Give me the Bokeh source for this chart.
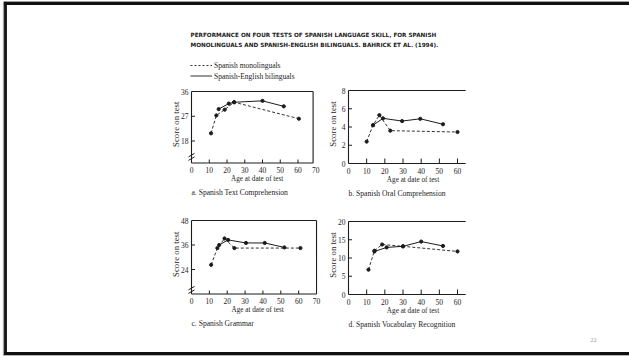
import math
from bokeh.plotting import figure
from bokeh.models import Range1d
from bokeh.core.properties import value
from bokeh.embed import file_html
from bokeh.resources import INLINE

# ---------------- data ----------------
title_lines = [
    "PERFORMANCE ON FOUR TESTS OF SPANISH LANGUAGE SKILL, FOR SPANISH",
    "MONOLINGUALS AND SPANISH-ENGLISH BILINGUALS.   BAHRICK ET AL. (1994).",
]
legend_labels = ["Spanish monolinguals", "Spanish-English bilinguals"]
page_number = "22"
x_title = "Age at date of test"
y_title = "Score on test"

captions = {
    "a": "a. Spanish Text Comprehension",
    "b": "b. Spanish Oral Comprehension",
    "c": "c. Spanish Grammar",
    "d": "d. Spanish Vocabulary Recognition",
}
xticks = {
    "a": [0, 10, 20, 30, 40, 50, 60, 70],
    "b": [0, 10, 20, 30, 40, 50, 60],
    "c": [0, 10, 20, 30, 40, 50, 60, 70],
    "d": [0, 10, 20, 30, 40, 50, 60],
}
yticks = {
    "a": [18, 27, 36],
    "b": [0, 2, 4, 6, 8],
    "c": [24, 36, 48],
    "d": [0, 5, 10, 15, 20],
}
# axis limits (x end, y min, y max)
x_end = {"a": 68.5, "b": 64.5, "c": 70, "d": 64.5}
y_min = {"a": 10, "b": 0, "c": 12, "d": 0}
y_max = {"a": 36, "b": 8, "c": 48, "d": 20}
y_break = {"a": 12.6, "c": 14.5}

# Spanish monolinguals (dashed) / Spanish-English bilinguals (solid)
mono_age_a = [11, 14, 18.7, 24, 60.5]
mono_score_a = [20.8, 27.3, 29.4, 32.1, 26.1]
bi_age_a = [15.3, 21, 24, 40, 52]
bi_score_a = [29.6, 31.6, 32.1, 32.6, 30.6]

mono_age_b = [10, 13.5, 17, 23, 60]
mono_score_b = [2.4, 4.2, 5.3, 3.6, 3.45]
bi_age_b = [13.5, 19, 29.5, 39.5, 52]
bi_score_b = [4.2, 4.95, 4.65, 4.9, 4.3]

mono_age_c = [11, 14.5, 18.5, 24, 61]
mono_score_c = [26.3, 34.5, 39.2, 34.5, 34.5]
bi_age_c = [15.5, 20.5, 30.5, 41, 52]
bi_score_c = [36.0, 38.5, 37.0, 37.0, 34.8]

mono_age_d = [11, 14.3, 18.5, 30, 60]
mono_score_d = [6.8, 12.0, 13.7, 13.2, 11.8]
bi_age_d = [14.3, 21, 30, 40, 52]
bi_score_d = [11.8, 12.9, 13.2, 14.5, 13.3]

series = {
    "a": (mono_age_a, mono_score_a, bi_age_a, bi_score_a),
    "b": (mono_age_b, mono_score_b, bi_age_b, bi_score_b),
    "c": (mono_age_c, mono_score_c, bi_age_c, bi_score_c),
    "d": (mono_age_d, mono_score_d, bi_age_d, bi_score_d),
}

# ---------------- layout (page pixels) ----------------
W, H = 629, 356
# x pixel of age 0, pixels per year, pixel of y max (top), pixel of y min (bottom)
place = {
    "a": dict(x0=191, ppx=1.775, top=91, bottom=162.5, xc=37),
    "b": dict(x0=348, ppx=1.817, top=90, bottom=163, xc=35.5),
    "c": dict(x0=191, ppx=1.786, top=220, bottom=293.5, xc=37),
    "d": dict(x0=348, ppx=1.817, top=221, bottom=294, xc=35.5),
}

INK = "#1c1c1c"
SERIF = value("Liberation Serif")

p = figure(width=W, height=H, output_backend="svg", toolbar_location=None,
           x_range=Range1d(0, W), y_range=Range1d(H, 0),
           x_axis_location=None, y_axis_location=None,
           min_border=0, min_border_left=0, min_border_right=0,
           min_border_top=0, min_border_bottom=0)
p.grid.visible = False
p.outline_line_color = None
p.background_fill_color = "white"
p.border_fill_color = "white"

# slide frame
p.segment(x0=[3, 3, 3], y0=[1.2, 1.2, 355.3], x1=[W, 3, W], y1=[1.2, 355.3, 355.3],
          line_color="#a0a0a0", line_width=1.2)
p.segment(x0=[3.5, 5, 3.5], y0=[3, 2, 353], x1=[W, 5, W], y1=[3, 354.5, 353],
          line_color="#111111", line_width=2.8)

# title
p.text(x=[190, 190], y=[34.5, 44], text=title_lines, text_font=value("DejaVu Sans"),
       text_font_style="bold", text_font_size="5.7px", text_color=INK,
       text_baseline="middle", text_align="left")

# legend
p.line(x=[190, 211.5], y=[65, 65], line_color=INK, line_width=0.9, line_dash="2 2")
p.line(x=[190, 211.5], y=[75.5, 75.5], line_color=INK, line_width=0.9)
p.text(x=[213.5, 213.5], y=[65, 75.5], text=legend_labels, text_font=SERIF,
       text_font_size="7.5px", text_color=INK, text_baseline="middle")

# page number
p.text(x=[593], y=[339.5], text=[page_number], text_font=SERIF, text_font_size="6.5px",
       text_color="#9a9a9a", text_align="center", text_baseline="middle")

for key in ["a", "b", "c", "d"]:
    sp = place[key]
    xr, yr = "x" + key, "y" + key
    kx = 1.0 / sp["ppx"]
    xs = -sp["x0"] * kx
    p.extra_x_ranges[xr] = Range1d(xs, xs + W * kx)
    top_c, bot_c = sp["top"], sp["bottom"]
    ky = (y_max[key] - y_min[key]) / (bot_c - top_c)
    ye = y_max[key] + top_c * ky
    p.extra_y_ranges[yr] = Range1d(ye - H * ky, ye)
    R = dict(x_range_name=xr, y_range_name=yr)

    lo, hi, xe = y_min[key], y_max[key], x_end[key]
    # axes / frame
    fx0 = [0, 0, 0]
    fy0 = [lo, lo, hi]
    fx1 = [0, xe, xe]
    fy1 = [hi, lo, hi]
    if key in ("a", "c"):
        fx0.append(xe); fy0.append(lo); fx1.append(xe); fy1.append(hi)
    p.segment(x0=fx0, y0=fy0, x1=fx1, y1=fy1, line_color=INK, line_width=1.1, **R)

    # ticks
    xt = [t for t in xticks[key] if 0 < t < xe]
    tick_up = (5 if key in ("b", "d") else 3.5) * ky
    p.segment(x0=xt, y0=[lo] * len(xt), x1=xt, y1=[lo + tick_up] * len(xt),
              line_color=INK, line_width=1, **R)
    yt = [t for t in yticks[key] if lo < t < hi]
    p.segment(x0=[0] * len(yt), y0=yt, x1=[3.5 * kx] * len(yt), y1=yt,
              line_color=INK, line_width=1, **R)

    # axis break
    if key in y_break:
        b = y_break[key]
        p.segment(x0=[-3 * kx, -3 * kx], y0=[b - 1 * ky, b - 4.5 * ky],
                  x1=[3 * kx, 3 * kx], y1=[b + 2.5 * ky, b - 1 * ky],
                  line_color=INK, line_width=1, **R)

    # tick labels
    p.text(x=xticks[key], y=[lo] * len(xticks[key]), text=[str(t) for t in xticks[key]],
           y_offset=7, text_align="center", text_baseline="middle",
           text_font=SERIF, text_font_size="7.5px", text_color=INK, **R)
    p.text(x=[0] * len(yticks[key]), y=yticks[key], text=[str(t) for t in yticks[key]],
           x_offset=-3, text_align="right", text_baseline="middle",
           text_font=SERIF, text_font_size="7.5px", text_color=INK, **R)

    # axis titles and caption
    p.text(x=[sp["xc"]], y=[lo], text=[x_title], y_offset=16, text_align="center",
           text_baseline="middle", text_font=SERIF, text_font_size="7.2px",
           text_color=INK, **R)
    p.text(x=[0], y=[(lo + hi) / 2], text=[y_title], x_offset=-16, y_offset=-3,
           angle=math.pi / 2, text_align="center", text_baseline="middle",
           text_font=SERIF, text_font_size="8.8px", text_color=INK, **R)
    p.text(x=[0], y=[lo], text=[captions[key]], y_offset=29.5, text_align="left",
           text_baseline="middle", text_font=SERIF, text_font_size="7.6px",
           text_color=INK, **R)

    # data
    mx, my, bx, by = series[key]
    p.line(x=mx, y=my, line_color=INK, line_width=0.9, line_dash="3 2", **R)
    p.line(x=bx, y=by, line_color=INK, line_width=1.0, **R)
    p.scatter(x=mx, y=my, size=3.2, fill_color=INK, line_color=INK, **R)
    p.scatter(x=bx, y=by, size=3.2, fill_color=INK, line_color=INK, **R)

open("out.html", "w").write(file_html(p, INLINE))
